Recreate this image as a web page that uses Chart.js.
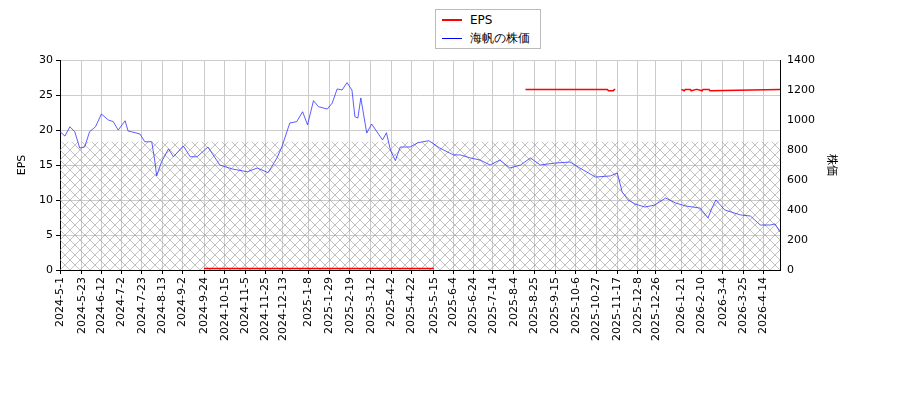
<!DOCTYPE html>
<html><head><meta charset="utf-8">
<script src="https://cdn.jsdelivr.net/npm/chart.js@4"></script>
<style>body{margin:0;background:#fff;font-family:"DejaVu Sans";}
#wrap{position:relative;width:900px;height:400px;}
#leg{position:absolute;left:435px;top:9px;width:104px;height:38px;border:1px solid #bbb;background:#fff;font-size:12px;z-index:2;}
.r{position:absolute;left:6px;height:14px;display:flex;align-items:center;}
.r span{display:inline-block;width:20px;height:0;margin-right:8px;}
</style></head><body>
<div id="wrap"><canvas id="c" width="900" height="400"></canvas>
<div id="leg"><div class="r" style="top:3px"><span style="border-top:2px solid #f00"></span>EPS</div>
<div class="r" style="top:21px"><span style="border-top:1px solid #00f"></span>海帆の株価</div></div></div>
<script>
const tickLabels=["2024-5-1","2024-5-23","2024-6-12","2024-7-2","2024-7-23","2024-8-13","2024-9-2","2024-9-24","2024-10-15","2024-11-5","2024-11-25","2024-12-13","2025-1-8","2025-1-29","2025-2-19","2025-3-12","2025-4-2","2025-4-22","2025-5-15","2025-6-4","2025-6-24","2025-7-14","2025-8-4","2025-8-25","2025-9-15","2025-10-6","2025-10-27","2025-11-17","2025-12-8","2025-12-26","2026-1-21","2026-2-10","2026-3-4","2026-3-25","2026-4-14"];
const priceDays=[0,5,10,15,20,25,30,36,42,49,54,59,66,69,81,86,93,96,98,103,110,115,125,132,139,150,162,175,190,200,211,220,225,233,240,246,251,257,262,271,276,281,286,291,296,299,302,305,311,316,327,331,335,340,345,355,363,374,385,399,406,416,426,436,446,456,467,477,487,502,517,527,543,558,565,570,576,583,593,603,614,624,634,649,657,661,665,674,690,700,710,720,725,730];
const priceVals=[922,893,955,922,813,820,922,955,1040,1000,989,933,995,927,907,855,855,733,627,722,807,755,827,755,755,820,700,673,655,680,649,747,822,980,989,1055,967,1129,1089,1073,1113,1207,1200,1249,1200,1022,1013,1147,913,973,867,915,800,729,820,820,849,862,813,767,767,747,733,700,733,680,700,747,700,713,720,680,620,627,647,520,467,440,420,433,480,447,427,413,347,413,467,400,367,360,300,300,307,253];
const epsDays=[146,379,null,472,555,556,561,562,563,null,630,633,634,639,640,645,646,651,652,658,659,730];
const epsVals=[0.2,0.2,null,25.8,25.8,25.6,25.6,25.8,25.8,null,25.8,25.6,25.8,25.8,25.6,25.8,25.8,25.6,25.8,25.8,25.6,25.8];
const hatchTop=18.33;
const base=Date.UTC(2024,4,1);
const dayOf=s=>{const [y,m,d]=s.split('-').map(Number);return Math.round((Date.UTC(y,m-1,d)-base)/864e5);};
const pc=document.createElement('canvas');pc.width=10;pc.height=10;const g=pc.getContext('2d');
g.strokeStyle='#999';g.lineWidth=0.6;g.beginPath();g.moveTo(0,0);g.lineTo(10,10);g.moveTo(10,0);g.lineTo(0,10);g.stroke();
const pattern=document.getElementById('c').getContext('2d').createPattern(pc,'repeat');
const F={family:'DejaVu Sans',size:11};
new Chart(document.getElementById('c'),{type:'line',data:{datasets:[
{data:epsDays.map((d,i)=>d===null?{x:null,y:null}:{x:d,y:epsVals[i]}),borderColor:'#f00',borderWidth:1.5,pointRadius:0,yAxisID:'y',spanGaps:false,order:1},
{data:priceDays.map((d,i)=>({x:d,y:priceVals[i]})),borderColor:'#33f',borderWidth:0.8,pointRadius:0,yAxisID:'y2',order:2},
{data:[{x:0,y:hatchTop},{x:730,y:hatchTop}],borderWidth:0,pointRadius:0,backgroundColor:pattern,fill:'origin',yAxisID:'y',order:3}
]},options:{animation:false,responsive:false,layout:{padding:{top:60,left:12,right:57}},
plugins:{legend:{display:false},tooltip:{enabled:false}},
scales:{x:{type:'linear',min:0,max:730,afterBuildTicks:a=>{a.ticks=tickLabels.map(s=>({value:dayOf(s)}));},
ticks:{autoSkip:false,maxRotation:90,minRotation:90,color:'#000',font:F,callback:(v)=>{const i=tickLabels.findIndex(s=>dayOf(s)===v);return i>=0?tickLabels[i]:'';}},
grid:{color:'#ccc',tickColor:'#000',tickLength:4},border:{color:'#000'},afterFit:a=>{a.height=130;}},
y:{position:'left',min:0,max:30,ticks:{stepSize:5,color:'#000',font:F},grid:{color:'#ccc',tickColor:'#000',tickLength:4},border:{color:'#000'},title:{display:true,text:'EPS',color:'#000',font:F},afterFit:a=>{a.width=48;}},
y2:{position:'right',min:0,max:1400,ticks:{stepSize:200,color:'#000',font:F,callback:v=>String(v)},grid:{display:false,tickLength:4},border:{color:'#000'},title:{display:true,text:'株価',color:'#000',font:{family:'Noto Sans CJK JP',size:11}},afterFit:a=>{a.width=63;}}
}}});
</script></body></html>
